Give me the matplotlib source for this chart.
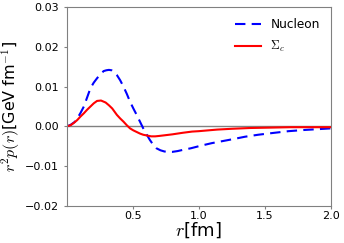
import matplotlib
matplotlib.use("Agg")
import matplotlib.pyplot as plt

plt.rcParams["mathtext.fontset"] = "cm"

r_nuc = [0.0, 0.03, 0.06, 0.08, 0.105, 0.13, 0.155, 0.18, 0.205, 0.23, 0.255, 0.28, 0.30, 0.32, 0.34, 0.36, 0.38, 0.405, 0.43, 0.455, 0.48, 0.505, 0.53, 0.555, 0.58, 0.605, 0.63, 0.655, 0.68, 0.71, 0.74, 0.77, 0.80, 0.84, 0.88, 0.94, 1.01, 1.10, 1.18, 1.26, 1.35, 1.45, 1.55, 1.68, 1.80, 1.90, 2.0]
p_nuc = [0.0, 0.0004, 0.0011, 0.0020, 0.0034, 0.0050, 0.0073, 0.0096, 0.0110, 0.0121, 0.0131, 0.0139, 0.0141, 0.0142, 0.0141, 0.0136, 0.0129, 0.0116, 0.0100, 0.0082, 0.0062, 0.0045, 0.0029, 0.0012, -0.0005, -0.0020, -0.0034, -0.0046, -0.0055, -0.0060, -0.0063, -0.0064, -0.0064, -0.0062, -0.0059, -0.0055, -0.0049, -0.0042, -0.0037, -0.0032, -0.0026, -0.0021, -0.0017, -0.0012, -0.0009, -0.0007, -0.0005]

r_sig = [0.0, 0.03, 0.055, 0.08, 0.105, 0.13, 0.155, 0.18, 0.205, 0.23, 0.26, 0.295, 0.32, 0.345, 0.38, 0.405, 0.43, 0.455, 0.48, 0.505, 0.53, 0.555, 0.58, 0.61, 0.64, 0.67, 0.70, 0.75, 0.80, 0.88, 0.95, 1.0, 1.07, 1.14, 1.25, 1.39, 1.55, 1.7, 1.85, 2.0]
p_sig = [0.0, 0.0003, 0.0009, 0.0016, 0.0025, 0.0033, 0.0042, 0.0050, 0.0058, 0.0064, 0.0065, 0.0060, 0.0053, 0.0045, 0.0029, 0.0020, 0.0012, 0.0003, -0.0005, -0.0010, -0.0014, -0.0018, -0.0021, -0.0023, -0.0025, -0.0025, -0.0024, -0.0022, -0.0020, -0.0016, -0.0013, -0.0012, -0.0010, -0.0008, -0.0006, -0.0004, -0.0003, -0.0002, -0.0002, -0.0002]

xticks = [0.5, 1.0, 1.5, 2.0]
yticks = [-0.02, -0.01, 0.0, 0.01, 0.02, 0.03]

fig = plt.figure(figsize=(3.44, 2.43), dpi=100)
ax = fig.add_axes([66.7/344, 1 - 206/243, (330.7 - 66.7)/344, (206 - 7)/243])
ax.axhline(0, color="gray", lw=1.0, zorder=1)
ax.plot(r_nuc, p_nuc, color="blue", ls="--", lw=1.5, dashes=(5, 3), label="Nucleon")
ax.plot(r_sig, p_sig, color="red", ls="-", lw=1.5, label=r"$\Sigma_c$")
ax.set_xlim(0, 2.0)
ax.set_ylim(-0.02, 0.03)
ax.set_xticks(xticks)
ax.set_xticklabels(["0.5", "1.0", "1.5", "2.0"])
ax.set_yticks(yticks)
ax.set_yticklabels(["\u22120.02", "\u22120.01", "0.00", "0.01", "0.02", "0.03"])
ax.tick_params(labelsize=8, length=2.5, color="gray")
ax.tick_params(axis="y", pad=3)
ax.tick_params(axis="x", pad=1)
for s in ax.spines.values():
    s.set_color("gray")
ax.set_xlabel(r"$r$[fm]", fontsize=13, labelpad=0)
ax.set_ylabel(r"$r^2p(r)$[GeV fm$^{-1}$]", fontsize=11.5)
ax.yaxis.set_label_coords((22 - 66.7) / 264, 0.5)
ax.legend(loc="upper right", frameon=False, fontsize=8.7, handlelength=2.1, labelspacing=0.7)
fig.savefig("out.png", dpi=100)
